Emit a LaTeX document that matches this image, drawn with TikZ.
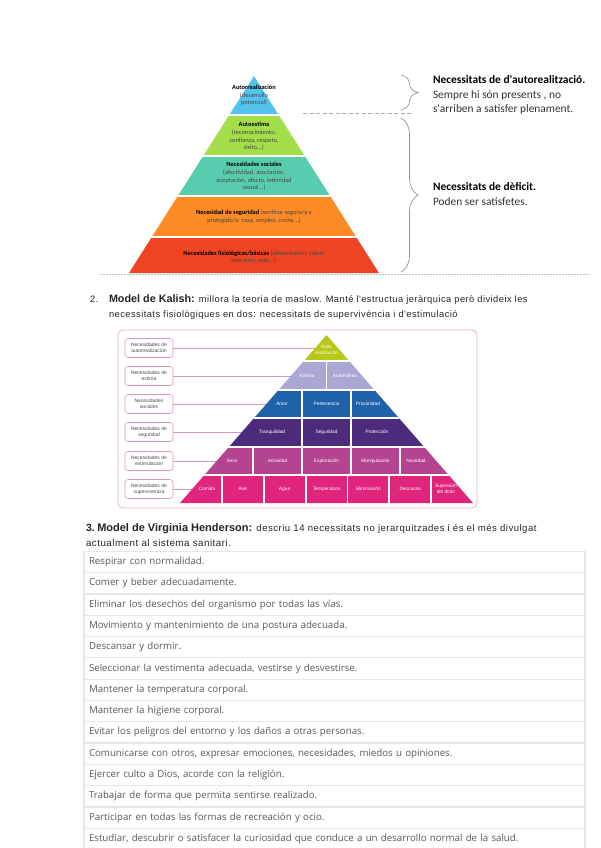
\documentclass[tikz,border=0pt]{standalone}
\usepackage{fontspec}
\usepackage{tikz}
\usetikzlibrary{positioning,decorations.pathreplacing}
\setmainfont{Liberation Sans}
\newfontfamily\calibri{Carlito}
\newfontfamily\opensans{Open Sans}
\newfontfamily\arialsp[LetterSpace=5]{Liberation Sans}
\definecolor{selfblue}{HTML}{52C4EE}
\definecolor{esteemgreen}{HTML}{A4DE4A}
\definecolor{socialteal}{HTML}{57CDAE}
\definecolor{safeorange}{HTML}{FD8A24}
\definecolor{bodyred}{HTML}{EE4424}
\definecolor{bracegray}{HTML}{8C97AE}
\definecolor{kpink}{HTML}{DC96C2}
\definecolor{klime}{HTML}{B7C719}
\definecolor{klav}{HTML}{AAA8D2}
\definecolor{kblue}{HTML}{1E62AA}
\definecolor{kpurple}{HTML}{4C2A7C}
\definecolor{kmauve}{HTML}{B4448F}
\definecolor{kmagenta}{HTML}{E1247C}
\definecolor{rowline}{HTML}{E6E6E6}
\definecolor{listtext}{HTML}{5A5A5A}

\begin{document}
\begin{tikzpicture}[x=1pt, y=-1pt, node distance=0pt,
  every node/.style={inner sep=0pt, outer sep=0pt},
  layertext/.style={font=\calibri\fontsize{6.4}{7.6}\selectfont, align=center, text=black!72},
  sidenote/.style={font=\calibri\fontsize{11.4}{14.5}\selectfont, align=left, anchor=west, text=black!80},
  curly/.style={decorate, decoration={brace, amplitude=17pt}, draw=bracegray, line width=0.7pt},
  headline/.style={anchor=base west, font=\arialsp\fontsize{9.3}{11}\selectfont, text=black!85},
  needlabel/.style={draw=kpink, line width=0.6pt, rounded corners=3pt, minimum width=48pt, minimum height=19pt, align=center, font=\fontsize{5}{6}\selectfont, text=black!70},
  celltext/.style={font=\fontsize{4.8}{5.6}\selectfont, text=white, align=center},
  klink/.style={draw=kpink, line width=0.8pt},
  needrow/.style={draw=rowline, line width=1.2pt, text width=491pt, inner xsep=5pt, align=left, minimum height=21.3pt, font=\opensans\fontsize{9.7}{11}\selectfont, text=listtext}]
\fill[white] (0,0) rectangle (600,848);
\useasboundingbox (0,0) rectangle (600,848);

% Maslow
\coordinate (dotL) at (100,274); \coordinate (dotR) at (590,274);
\draw[bracegray!60, line width=1pt, dash pattern=on 1.5pt off 1.5pt] (dotL) -- (dotR);
\coordinate (mtop) at (254,76); \coordinate (mleft) at (129,273); \coordinate (mright) at (379,273);
\begin{scope}
\clip (mtop) -- (mleft) -- (mright) -- cycle;
\fill[selfblue] (100,70) rectangle (400,115);
\fill[esteemgreen] (100,115) rectangle (400,156);
\fill[socialteal] (100,156) rectangle (400,196);
\fill[safeorange] (100,196) rectangle (400,237);
\fill[bodyred] (100,237) rectangle (400,274);
\draw[white, line width=1.5pt] (100,115) -- (400,115) (100,156) -- (400,156) (100,196) -- (400,196) (100,237) -- (400,237);
\end{scope}
\node[layertext] (selfreal) at (254,95.5) {\textbf{\color{black}Autorrealización}\\(desarrollo\\potencial)};
\node[layertext] (esteem) at (254,136.5) {\textbf{\color{black}Autoestima}\\(reconocimiento,\\confianza, respeto,\\éxito...)};
\node[layertext] (social) at (254,176.5) {\textbf{\color{black}Necesidades sociales}\\(afectividad, asociación,\\aceptación, afecto, intimidad\\sexual...)};
\node[layertext] (safety) at (254,216.7) {\textbf{\color{black}Necesidad de seguridad} (sentirse seguro/a y\\protegido/a: casa, empleo, coche...)};
\node[layertext] (basic) at (254,257) {\textbf{\color{black}Necesidades fisiológicas/básicas} (alimentación, salud,\\descanso, sexo...)};

\coordinate (b1top) at (401,75); \coordinate (b1bot) at (401,110);
\coordinate (b2top) at (401,118); \coordinate (b2bot) at (401,272);
\draw[curly] (b1top) -- (b1bot);
\draw[curly] (b2top) -- (b2bot);
\coordinate (dashL) at (303,113); \coordinate (dashR) at (413,113);
\draw[bracegray!80, line width=0.9pt, dash pattern=on 4pt off 2.5pt] (dashL) -- (dashR);
\node[sidenote] (selfnote) at (433,95) {\textbf{\color{black}Necessitats de d'autorealització.}\\Sempre hi són presents , no\\s'arriben a satisfer plenament.};
\node[sidenote] (deficitnote) at (433,194) {\textbf{\color{black}Necessitats de dèficit.}\\Poden ser satisfetes.};

% Kalish
\node[headline] (num2) at (90,302) {2.};
\node[headline] (kalishA) at (109,302) {{\rmfamily\fontsize{10.8}{12}\selectfont\textbf{Model de Kalish:}} millora la teoria de maslow. Manté l'estructua jeràrquica però divideix les};
\node[headline] (kalishB) at (109,317) {necessitats fisiològiques en dos: necessitats de supervivència i d'estimulació};
\draw[kpink!75, line width=0.8pt, rounded corners=5pt] (118,330) rectangle (477,508);

\node[needlabel] (lself) at (149,348) {Necesidades de\\autorrealización};
\node[needlabel] (lesteem) at (149,376) {Necesidades de\\estima};
\node[needlabel] (lsocial) at (149,404) {Necesidades\\sociales};
\node[needlabel] (lsafe) at (149,432) {Necesidades de\\seguridad};
\node[needlabel] (lstim) at (149,461) {Necesidades de\\estimulación};
\node[needlabel] (lsurv) at (149,489) {Necesidades de\\supervivencia};
\coordinate (eself) at (318,348); \coordinate (eesteem) at (294,376);
\coordinate (esocial) at (269,404); \coordinate (esafe) at (245,432);
\coordinate (estim) at (220,461); \coordinate (esurv) at (196,489);
\draw[klink] (lself) -- (eself); \draw[klink] (lesteem) -- (eesteem);
\draw[klink] (lsocial) -- (esocial); \draw[klink] (lsafe) -- (esafe);
\draw[klink] (lstim) -- (estim); \draw[klink] (lsurv) -- (esurv);

\coordinate (ktop) at (326.5,335); \coordinate (kleft) at (180,503); \coordinate (kright) at (473,503);
\begin{scope}
\clip (ktop) -- (kleft) -- (kright) -- cycle;
\fill[klime] (150,330) rectangle (500,361);
\fill[klav] (150,361) rectangle (500,390);
\fill[kblue] (150,390) rectangle (500,418);
\fill[kpurple] (150,418) rectangle (500,447);
\fill[kmauve] (150,447) rectangle (500,475);
\fill[kmagenta] (150,475) rectangle (500,504);
\draw[white, line width=1.8pt] (150,361) -- (500,361) (150,390) -- (500,390) (150,418) -- (500,418)
  (150,447) -- (500,447) (150,475) -- (500,475);
\draw[white, line width=1.8pt] (326.5,361) -- (326.5,390) (302,390) -- (302,475) (351,390) -- (351,475)
  (253,447) -- (253,475) (400,447) -- (400,475);
\draw[white, line width=1.8pt] (221.9,475) -- (221.9,504) (263.7,475) -- (263.7,504) (305.6,475) -- (305.6,504)
  (347.4,475) -- (347.4,504) (389.3,475) -- (389.3,504) (431.1,475) -- (431.1,504);
\end{scope}
\node[celltext] (kself) at (326.5,350) {Autor\\realización};
\node[celltext] (kestima) at (307,375.5) {Estima};
\node[celltext] (kautoest) at (345,375.5) {Autoestima};
\node[celltext] (kamor) at (282,404) {Amor};
\node[celltext] (kperten) at (326.5,404) {Pertenencia};
\node[celltext] (kproxim) at (368,404) {Proximidad};
\node[celltext] (ktranq) at (272,432) {Tranquilidad};
\node[celltext] (kseg) at (326.5,432) {Seguridad};
\node[celltext] (kprot) at (377,432) {Protección};
\node[celltext] (ksexo) at (232,461) {Sexo};
\node[celltext] (kactiv) at (277.5,461) {Actividad};
\node[celltext] (kexplor) at (326.5,461) {Exploración};
\node[celltext] (kmanip) at (375.5,461) {Manipulación};
\node[celltext] (knovedad) at (416,461) {Novedad};
\node[celltext] (kcomida) at (207,489) {Comida};
\node[celltext] (kaire) at (242.8,489) {Aire};
\node[celltext] (kagua) at (284.6,489) {Agua};
\node[celltext] (ktemp) at (326.5,489) {Temperatura};
\node[celltext] (kelim) at (368.4,489) {Eliminación};
\node[celltext] (kdesc) at (410.2,489) {Descanso};
\node[celltext] (kdolor) at (446,489) {Supresión\\del dolor};

% Henderson
\node[headline] (num3) at (86,531) {{\rmfamily\fontsize{10.5}{12}\selectfont\textbf{3.}}};
\node[headline, right=2.5pt of num3.base east, anchor=base west, font=\arialsp\fontsize{9.6}{11}\selectfont] (hendA) {{\rmfamily\fontsize{11}{12}\selectfont\textbf{Model de Virginia Henderson:}} descriu 14 necessitats no jerarquitzades i és el més divulgat};
\node[headline, font=\arialsp\fontsize{9.8}{11}\selectfont] (hendB) at (86,546) {actualment al sistema sanitari.};

\node[needrow, anchor=west] (breathe) at (84,562) {Respirar con normalidad.};
\node[needrow, below=of breathe] (eat) {Comer y beber adecuadamente.};
\node[needrow, below=of eat] (excrete) {Eliminar los desechos del organismo por todas las vías.};
\node[needrow, below=of excrete] (move) {Movimiento y mantenimiento de una postura adecuada.};
\node[needrow, below=of move] (rest) {Descansar y dormir.};
\node[needrow, below=of rest] (clothes) {Seleccionar la vestimenta adecuada, vestirse y desvestirse.};
\node[needrow, below=of clothes] (temp) {Mantener la temperatura corporal.};
\node[needrow, below=of temp] (hygiene) {Mantener la higiene corporal.};
\node[needrow, below=of hygiene] (danger) {Evitar los peligros del entorno y los daños a otras personas.};
\node[needrow, below=of danger] (talk) {Comunicarse con otros, expresar emociones, necesidades, miedos u opiniones.};
\node[needrow, below=of talk] (faith) {Ejercer culto a Dios, acorde con la religión.};
\node[needrow, below=of faith] (work) {Trabajar de forma que permita sentirse realizado.};
\node[needrow, below=of work] (leisure) {Participar en todas las formas de recreación y ocio.};
\node[needrow, below=of leisure] (learn) {Estudiar, descubrir o satisfacer la curiosidad que conduce a un desarrollo normal de la salud.};
\end{tikzpicture}
\end{document}
